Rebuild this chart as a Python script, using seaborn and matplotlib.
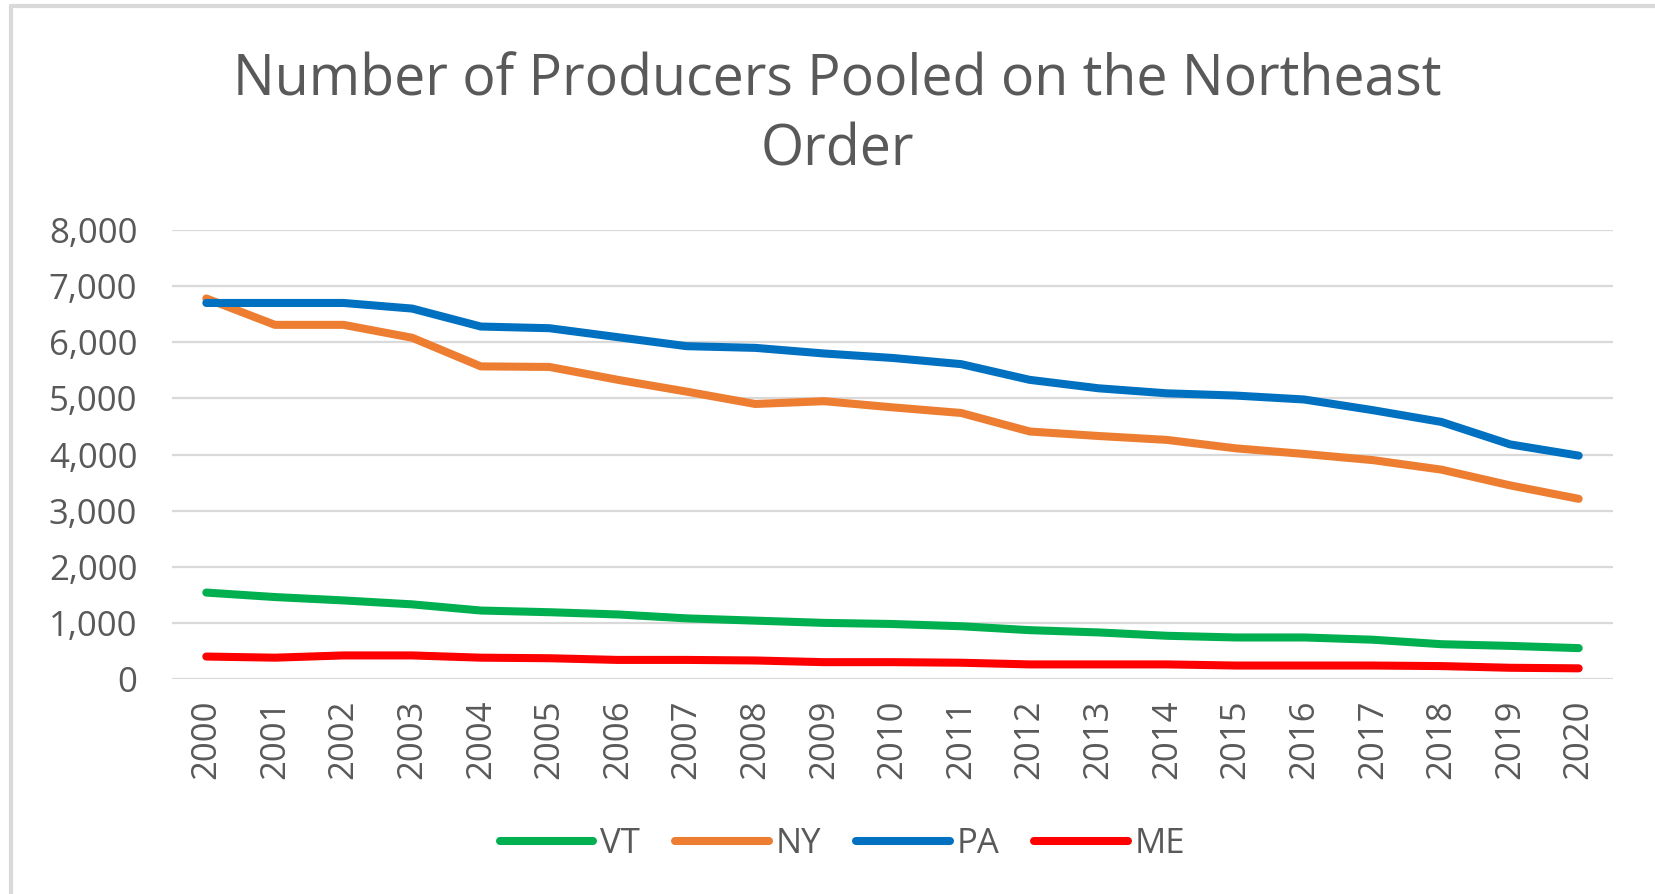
import matplotlib
matplotlib.use("Agg")
import matplotlib.pyplot as plt
import matplotlib.ticker as mticker
from matplotlib.lines import Line2D
import seaborn as sns
import pandas as pd

years = [str(y) for y in range(2000, 2021)]
VT = [1540, 1460, 1400, 1330, 1220, 1190, 1150, 1080, 1040, 1000, 980, 940, 870, 830, 770, 740, 740, 700, 620, 590, 550]
NY = [6780, 6310, 6310, 6080, 5570, 5560, 5330, 5120, 4900, 4950, 4840, 4740, 4410, 4330, 4260, 4110, 4010, 3900, 3730, 3450, 3210]
PA = [6700, 6700, 6700, 6600, 6280, 6250, 6090, 5930, 5900, 5800, 5720, 5610, 5330, 5180, 5090, 5050, 4980, 4790, 4580, 4180, 3980]
ME = [400, 380, 420, 420, 380, 370, 340, 340, 330, 300, 300, 290, 260, 260, 260, 240, 240, 240, 230, 200, 190]
series_names = ["VT", "NY", "PA", "ME"]
colors = {"VT": "#00b050", "NY": "#ed7d31", "PA": "#0070c0", "ME": "#ff0000"}
title_lines = ["Number of Producers Pooled on the Northeast", "Order"]

df = pd.DataFrame({"Year": years, "VT": VT, "NY": NY, "PA": PA, "ME": ME})
long = df.melt(id_vars="Year", var_name="State", value_name="Producers")

sns.set_theme(style="white")
plt.rcParams["font.family"] = ["Open Sans", "DejaVu Sans"]

fig = plt.figure(figsize=(16.55, 8.94), dpi=100)
ax = fig.add_axes([172 / 1655, 1 - 679 / 894, (1613 - 172) / 1655, (679 - 230) / 894])

sns.lineplot(data=long, x="Year", y="Producers", hue="State", hue_order=series_names,
             palette=colors, linewidth=5.8, ax=ax, legend=False, sort=False,
             solid_capstyle="round", solid_joinstyle="round")

ax.set_xlim(-0.5, len(years) - 0.5)
ax.set_ylim(0, 8000)
ax.yaxis.set_major_locator(mticker.MultipleLocator(1000))
ax.yaxis.set_major_formatter(mticker.FuncFormatter(lambda v, p: f"{int(v):,}"))
ax.grid(axis="y", color="#d9d9d9", linewidth=1.6)
ax.grid(axis="x", visible=False)
ax.set_axisbelow(True)
for s in ax.spines.values():
    s.set_visible(False)
ax.set_xlabel("")
ax.set_ylabel("")
ax.tick_params(axis="both", length=0, labelsize=25, colors="#595959")
ax.tick_params(axis="y", pad=25)
ax.tick_params(axis="x", pad=15)
for lab in ax.get_xticklabels():
    lab.set_rotation(90)

fig.text(0.506, 0.909, title_lines[0], ha="center", va="center", fontsize=40, color="#595959")
fig.text(0.506, 0.831, title_lines[1], ha="center", va="center", fontsize=40, color="#595959")

handles = [Line2D([0], [0], color=colors[n], linewidth=5.8, solid_capstyle="round") for n in series_names]
fig.legend(handles, series_names, loc="center", bbox_to_anchor=(0.509, 0.056), ncol=4,
           frameon=False, fontsize=25, handlelength=2.7, handletextpad=0.2, columnspacing=1.0,
           labelcolor="#595959")

# chart-area border (left and top edges visible)
fig.add_artist(Line2D([11 / 1655, 11 / 1655], [0, 1 - 6 / 894], transform=fig.transFigure,
                      color="#d9d9d9", linewidth=3))
fig.add_artist(Line2D([11 / 1655, 1], [1 - 6 / 894, 1 - 6 / 894], transform=fig.transFigure,
                      color="#d9d9d9", linewidth=3))

fig.savefig("out.png", dpi=100, facecolor="white")
